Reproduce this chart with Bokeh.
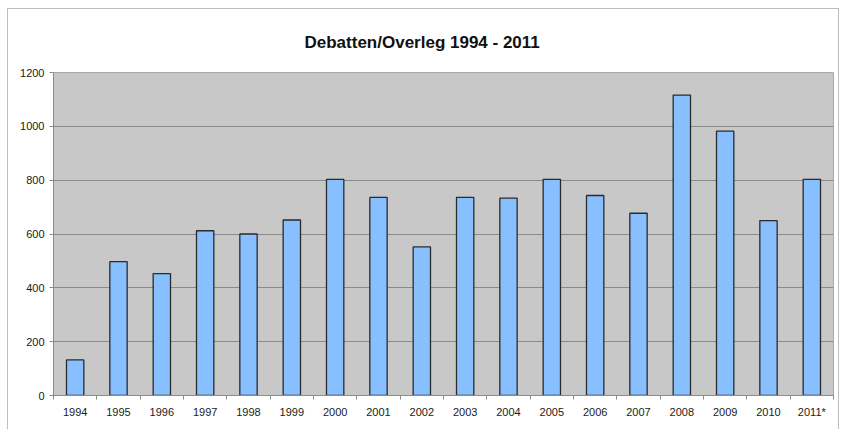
from bokeh.plotting import figure
from bokeh.models import ColumnDataSource, FixedTicker, Range1d, Title
from bokeh.embed import file_html
from bokeh.resources import INLINE

years = ["1994", "1995", "1996", "1997", "1998", "1999", "2000", "2001", "2002",
         "2003", "2004", "2005", "2006", "2007", "2008", "2009", "2010", "2011*"]
counts = [132, 497, 453, 612, 600, 652, 803, 736, 552,
          736, 733, 803, 743, 677, 1116, 982, 650, 803]
y_ticks = [0, 200, 400, 600, 800, 1000, 1200]

xs = list(range(len(years)))
src = ColumnDataSource(dict(x=xs, top=counts))

p = figure(width=832, height=421, output_backend="svg", toolbar_location=None,
           x_range=Range1d(-0.5, len(years) - 0.5), y_range=Range1d(0, 1200),
           min_border_left=45, min_border_right=7, min_border_top=63, min_border_bottom=35)
p.styles = {"border": "1px solid #bdbdbd", "border-bottom": "none", "box-sizing": "border-box",
            "margin-left": "7px", "margin-top": "8px"}

p.add_layout(Title(text="Debatten/Overleg 1994 - 2011", align="left", offset=251,
                   text_font="Liberation Sans", text_font_size="17px", text_font_style="bold",
                   text_color="#111111", standoff=42), "above")

p.background_fill_color = "#c8c8c8"
p.border_fill_color = "white"
p.outline_line_color = "#a8a8a8"
p.outline_line_width = 1

p.vbar(x="x", top="top", width=0.4, bottom=0, source=src,
       fill_color="#87bfff", line_color="#2a2a2a", line_width=1.3)

p.xgrid.visible = False
p.ygrid.ticker = FixedTicker(ticks=y_ticks)
p.ygrid.grid_line_color = "#8a8a8a"
p.ygrid.grid_line_width = 1

p.yaxis.ticker = FixedTicker(ticks=y_ticks)
p.yaxis.axis_line_color = "#8a8a8a"
p.yaxis.major_tick_line_color = "#8a8a8a"
p.yaxis.major_tick_out = 4
p.yaxis.major_tick_in = 0
p.yaxis.minor_tick_line_color = None
p.yaxis.major_label_standoff = 5

p.xaxis.ticker = FixedTicker(ticks=xs, minor_ticks=[i - 0.5 for i in range(len(years) + 1)])
p.xaxis.major_label_overrides = {i: y for i, y in enumerate(years)}
p.xaxis.axis_line_color = "#8a8a8a"
p.xaxis.major_tick_line_color = None
p.xaxis.major_tick_out = 4
p.xaxis.minor_tick_line_color = "#8a8a8a"
p.xaxis.minor_tick_out = 4
p.xaxis.minor_tick_in = 0
p.xaxis.major_label_standoff = 6

for ax in (p.xaxis, p.yaxis):
    ax.major_label_text_font = "Liberation Sans"
    ax.major_label_text_font_size = "11px"
    ax.major_label_text_color = "#1a1a1a"

open("out.html", "w").write(file_html(p, INLINE))
